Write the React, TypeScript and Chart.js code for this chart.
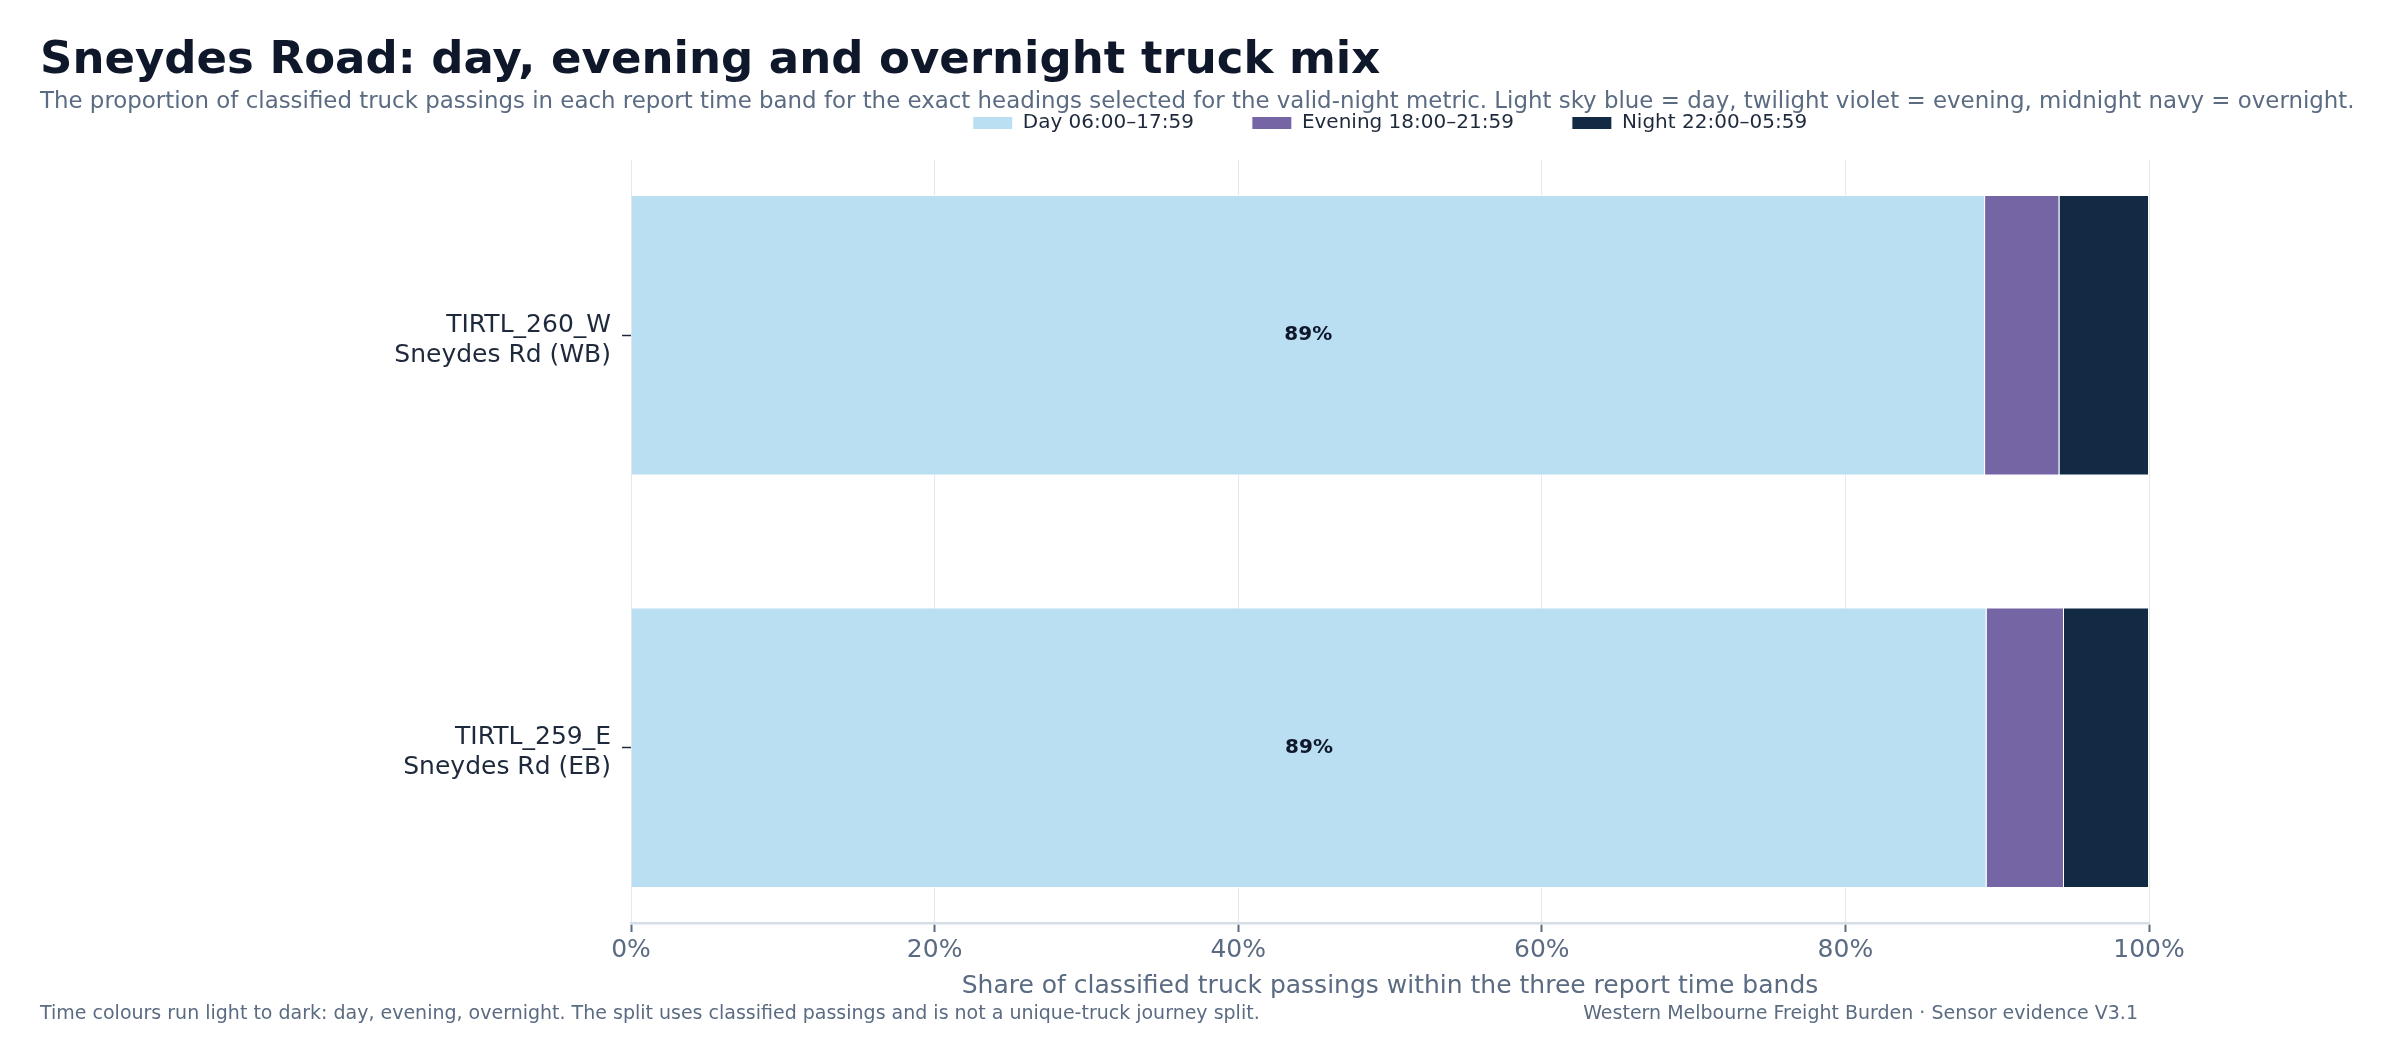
import {
  BarController,
  BarElement,
  Chart,
  Legend,
  LinearScale,
} from 'chart.js';
import type { Plugin } from 'chart.js';
import { useEffect, useRef } from 'react';

Chart.register(BarController, BarElement, Legend, LinearScale);

const chartTitle = 'Sneydes Road: day, evening and overnight truck mix';
const chartSubtitle =
  'The proportion of classified truck passings in each report time band for the exact headings selected for the valid-night metric. Light sky blue = day, twilight violet = evening, midnight navy = overnight.';
const footNote =
  'Time colours run light to dark: day, evening, overnight. The split uses classified passings and is not a unique-truck journey split.';
const sourceNote = 'Western Melbourne Freight Burden · Sensor evidence V3.1';
const xAxisTitle = 'Share of classified truck passings within the three report time bands';

const sensorIds = ['TIRTL_260_W', 'TIRTL_259_E'];
const siteNames = ['Sneydes Rd (WB)', 'Sneydes Rd (EB)'];

// percent of classified passings per band
const dayShare = [89.2, 89.3];
const eveningShare = [4.9, 5.1];
const nightShare = [5.9, 5.6];

const bandLabels = ['Day 06:00–17:59', 'Evening 18:00–21:59', 'Night 22:00–05:59'];
const bandColors = ['#badef2', '#7565a5', '#122a44'];

const FONT = '"DejaVu Sans", sans-serif';
const SLATE = '#5a6b82';
const INK = '#1e293b';

const segmentLabels: Plugin<'bar'> = {
  id: 'segmentLabels',
  afterDatasetsDraw(chart) {
    const { ctx } = chart;
    const meta = chart.getDatasetMeta(0);
    ctx.save();
    ctx.font = `bold 20px ${FONT}`;
    ctx.fillStyle = '#0f172a';
    ctx.textAlign = 'center';
    ctx.textBaseline = 'middle';
    meta.data.forEach((bar, i) => {
      const value = dayShare[i];
      if (value < 10) return;
      const { x, y, base } = bar.getProps(['x', 'y', 'base'], true) as {
        x: number;
        y: number;
        base: number;
      };
      ctx.fillText(`${Math.round(value)}%`, (x + base) / 2, y);
    });
    ctx.restore();
  },
};

function TruckMixChart() {
  const canvasRef = useRef<HTMLCanvasElement>(null);
  const chartRef = useRef<Chart | null>(null);

  useEffect(() => {
    const canvas = canvasRef.current;
    if (!canvas) {
      return undefined;
    }

    chartRef.current?.destroy();

    const series = [dayShare, eveningShare, nightShare];

    chartRef.current = new Chart(canvas, {
      type: 'bar',
      data: {
        datasets: series.map((values, band) => ({
          label: bandLabels[band],
          data: values.map((value, index) => ({ x: value, y: index })),
          backgroundColor: bandColors[band],
          borderColor: '#ffffff',
          borderWidth: 1,
          categoryPercentage: 0.68,
          barPercentage: 1,
          xAxisID: 'x',
          yAxisID: 'y',
        })),
      },
      options: {
        animation: false,
        responsive: true,
        maintainAspectRatio: false,
        indexAxis: 'y',
        layout: {
          padding: { top: 55, left: 40, right: 247, bottom: 58 },
        },
        plugins: {
          legend: {
            display: true,
            position: 'top',
            fullSize: false,
            labels: {
              boxWidth: 40,
              boxHeight: 13,
              padding: 58,
              color: INK,
              font: { family: FONT, size: 20 },
            },
          },
          tooltip: { enabled: false },
        },
        scales: {
          x: {
            type: 'linear',
            position: 'bottom',
            min: 0,
            max: 100,
            stacked: true,
            border: { display: true, color: '#d6dee7', width: 2.5 },
            grid: {
              color: '#e6e8ee',
              lineWidth: 1,
              drawTicks: true,
              tickLength: 9,
              tickColor: SLATE,
              tickWidth: 2,
            },
            ticks: {
              stepSize: 20,
              padding: 3,
              color: SLATE,
              font: { family: FONT, size: 25 },
              callback: (value) => `${value}%`,
            },
            title: {
              display: true,
              text: xAxisTitle,
              color: SLATE,
              padding: { top: 3, bottom: 4 },
              font: { family: FONT, size: 25 },
            },
          },
          y: {
            type: 'linear',
            position: 'left',
            min: -0.425,
            max: 1.425,
            offset: false,
            reverse: true,
            stacked: true,
            afterBuildTicks: (scale) => {
              scale.ticks = sensorIds.map((_, index) => ({ value: index }));
            },
            afterFit: (scale) => {
              scale.width = 591;
            },
            border: { display: false },
            grid: {
              offset: false,
              drawOnChartArea: false,
              drawTicks: true,
              tickLength: 9,
              tickColor: INK,
              tickWidth: 1.5,
            },
            ticks: {
              padding: 11,
              labelOffset: 5,
              color: INK,
              font: { family: FONT, size: 25 },
              callback: (value) => [sensorIds[Number(value)], siteNames[Number(value)]],
            },
          },
          gap: {
            type: 'linear',
            position: 'top',
            display: true,
            min: 0,
            max: 1,
            border: { display: false },
            grid: { display: false, drawTicks: false },
            ticks: { display: false },
            afterFit: (scale) => {
              scale.height = 17;
            },
          },
        },
      },
      plugins: [segmentLabels],
    });

    return () => {
      chartRef.current?.destroy();
      chartRef.current = null;
    };
  }, []);

  return (
    <canvas
      ref={canvasRef}
      role="img"
      aria-label={`${chartTitle} chart`}
    />
  );
}

export default function App() {
  return (
    <div
      style={{
        position: 'fixed',
        left: 0,
        top: 0,
        width: 2396,
        height: 1063,
        background: '#ffffff',
        fontFamily: FONT,
        overflow: 'hidden',
      }}
    >
      <div style={{ position: 'absolute', left: 0, top: 0, width: 2396, height: 1063 }}>
        <TruckMixChart />
      </div>
      <div
        style={{
          position: 'absolute',
          left: 40,
          top: 35,
          fontSize: 45,
          fontWeight: 700,
          lineHeight: 1,
          color: '#0f172a',
          whiteSpace: 'nowrap',
        }}
      >
        {chartTitle}
      </div>
      <div
        style={{
          position: 'absolute',
          left: 40,
          top: 89,
          fontSize: 22.9,
          lineHeight: 1,
          color: SLATE,
          whiteSpace: 'nowrap',
        }}
      >
        {chartSubtitle}
      </div>
      <div
        style={{
          position: 'absolute',
          left: 40,
          top: 1003,
          fontSize: 19,
          lineHeight: 1,
          color: SLATE,
          whiteSpace: 'nowrap',
        }}
      >
        {footNote}
      </div>
      <div
        style={{
          position: 'absolute',
          right: 258,
          top: 1003,
          fontSize: 19,
          lineHeight: 1,
          color: SLATE,
          whiteSpace: 'nowrap',
        }}
      >
        {sourceNote}
      </div>
    </div>
  );
}
